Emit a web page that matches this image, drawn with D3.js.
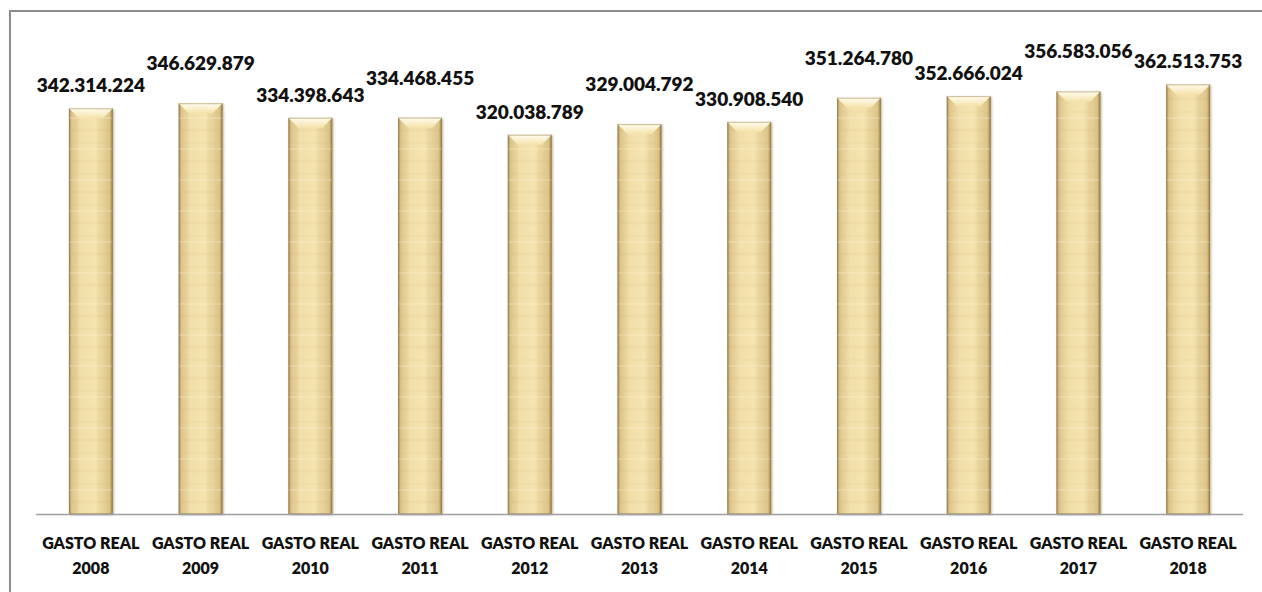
<!DOCTYPE html>
<html>
<head>
<meta charset="utf-8">
<title>Gasto real</title>
<script src="https://d3js.org/d3.v7.min.js"></script>
<style>
  body { margin: 0; background: #fff; }
  svg text { font-family: Lato, 'Open Sans', sans-serif; font-weight: 800; fill: #111; }
</style>
</head>
<body>
<div id="chart"></div>
<script>
var years = ["2008", "2009", "2010", "2011", "2012", "2013", "2014", "2015", "2016", "2017", "2018"];
var categoryPrefix = "GASTO REAL";
var gastoReal = [342314224, 346629879, 334398643, 334468455, 320038789, 329004792,
                 330908540, 351264780, 352666024, 356583056, 362513753];

var width = 1262, height = 592;

var svg = d3.select('#chart').append('svg')
    .attr('width', width)
    .attr('height', height);

var defs = svg.append('defs');

// body of the bar: darker at edges, light in the middle
var body = defs.append('linearGradient').attr('id', 'barBody')
    .attr('x1', '0%').attr('x2', '100%').attr('y1', '0%').attr('y2', '0%');
body.append('stop').attr('offset', '0%').attr('stop-color', '#a08246');
body.append('stop').attr('offset', '6%').attr('stop-color', '#dcc389');
body.append('stop').attr('offset', '25%').attr('stop-color', '#f1dea8');
body.append('stop').attr('offset', '60%').attr('stop-color', '#f4e4b0');
body.append('stop').attr('offset', '93%').attr('stop-color', '#dcc387');
body.append('stop').attr('offset', '100%').attr('stop-color', '#957740');

var bevel = defs.append('linearGradient').attr('id', 'barTop')
    .attr('x1', '0%').attr('x2', '0%').attr('y1', '0%').attr('y2', '100%');
bevel.append('stop').attr('offset', '0%').attr('stop-color', '#fffdf0');
bevel.append('stop').attr('offset', '100%').attr('stop-color', '#f5e2aa');

// faint paper texture
var tex = defs.append('pattern').attr('id', 'paper')
    .attr('patternUnits', 'userSpaceOnUse')
    .attr('width', 22).attr('height', 31);
tex.append('line').attr('x1', 0).attr('x2', 22).attr('y1', 6).attr('y2', 6)
    .attr('stroke', '#b89a5c').attr('stroke-opacity', 0.08).attr('stroke-width', 3);
tex.append('line').attr('x1', 0).attr('x2', 22).attr('y1', 19).attr('y2', 19)
    .attr('stroke', '#b89a5c').attr('stroke-opacity', 0.05).attr('stroke-width', 2);
tex.append('line').attr('x1', 0).attr('x2', 22).attr('y1', 25).attr('y2', 25)
    .attr('stroke', '#fff6dc').attr('stroke-opacity', 0.2).attr('stroke-width', 2);
tex.append('line').attr('x1', 11).attr('x2', 11).attr('y1', 0).attr('y2', 31)
    .attr('stroke', '#b89a5c').attr('stroke-opacity', 0.05).attr('stroke-width', 4);

var shadow = defs.append('filter').attr('id', 'shadow')
    .attr('x', '-20%').attr('y', '-5%').attr('width', '140%').attr('height', '110%');
shadow.append('feDropShadow').attr('dx', 1).attr('dy', 1).attr('stdDeviation', 1.2)
    .attr('flood-color', '#000').attr('flood-opacity', 0.3);

// chart frame (only top and left edges fall inside the picture)
svg.append('path')
    .attr('d', 'M10,' + height + 'V11H' + width)
    .attr('fill', 'none')
    .attr('stroke', '#8c8c8c')
    .attr('stroke-width', 2);

var x = d3.scaleBand()
    .domain(years)
    .range([36, 1243])
    .paddingInner(0.6)
    .paddingOuter(0.3);

var y = d3.scaleLinear()
    .domain([0, 400000000])
    .range([514, 40]);

var data = years.map(function(yr, i) { return { year: yr, value: gastoReal[i] }; });

var bars = svg.append('g').selectAll('g')
    .data(data)
    .enter().append('g')
    .attr('filter', 'url(#shadow)');

bars.append('rect')
    .attr('x', function(d) { return x(d.year); })
    .attr('y', function(d) { return y(d.value); })
    .attr('width', x.bandwidth())
    .attr('height', function(d) { return y(0) - y(d.value); })
    .attr('fill', 'url(#barBody)');

bars.append('rect')
    .attr('x', function(d) { return x(d.year); })
    .attr('y', function(d) { return y(d.value); })
    .attr('width', x.bandwidth())
    .attr('height', function(d) { return y(0) - y(d.value); })
    .attr('fill', 'url(#paper)');

var bv = 10;
bars.append('path')
    .attr('d', function(d) {
        var x0 = x(d.year), x1 = x0 + x.bandwidth(), t = y(d.value);
        return 'M' + x0 + ',' + t + 'H' + x1 + 'L' + (x1 - bv) + ',' + (t + bv) +
               'H' + (x0 + bv) + 'Z';
    })
    .attr('fill', 'url(#barTop)');

bars.append('rect')
    .attr('x', function(d) { return x(d.year) + 0.5; })
    .attr('y', function(d) { return y(d.value) + 0.5; })
    .attr('width', x.bandwidth() - 1)
    .attr('height', function(d) { return y(0) - y(d.value) - 1; })
    .attr('fill', 'none')
    .attr('stroke', '#9c7f48')
    .attr('stroke-opacity', 0.5)
    .attr('stroke-width', 1);

// category axis line
svg.append('line')
    .attr('x1', 36).attr('x2', 1243)
    .attr('y1', 514.5).attr('y2', 514.5)
    .attr('stroke', '#a0a0a0')
    .attr('stroke-width', 1.5);

// value labels, every other one lifted so neighbours don't collide
var fmt = function(v) { return d3.format(',')(v).replace(/,/g, '.'); };
svg.append('g').selectAll('text')
    .data(data)
    .enter().append('text')
    .attr('x', function(d) { return x(d.year) + x.bandwidth() / 2; })
    .attr('y', function(d, i) { return y(d.value) - (i % 2 ? 33 : 16); })
    .attr('text-anchor', 'middle')
    .style('font-size', '19px')
    .text(function(d) { return fmt(d.value); });

var cat = svg.append('g').selectAll('text')
    .data(years)
    .enter().append('text')
    .attr('x', function(d) { return x(d) + x.bandwidth() / 2; })
    .attr('y', 549)
    .attr('text-anchor', 'middle')
    .style('font-size', '16px');
cat.append('tspan').text(categoryPrefix);
cat.append('tspan')
    .attr('x', function(d) { return x(d) + x.bandwidth() / 2; })
    .attr('dy', 25)
    .text(function(d) { return d; });
</script>
</body>
</html>
